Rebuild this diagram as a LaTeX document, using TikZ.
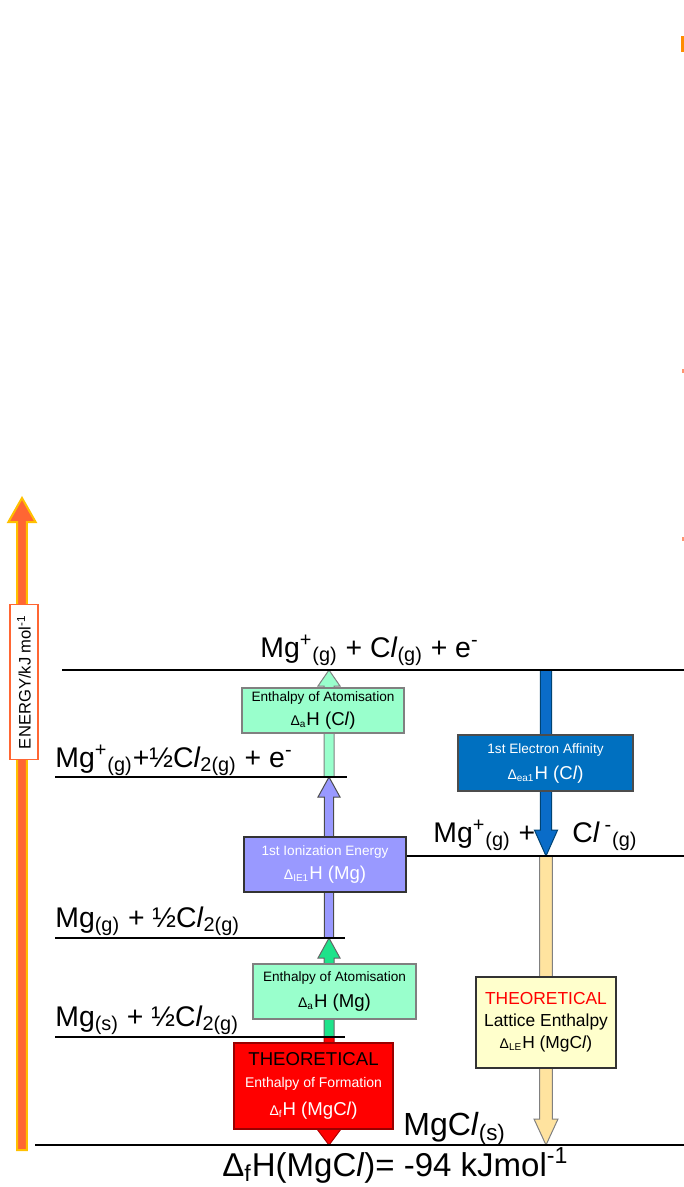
\documentclass[tikz,border=0pt]{standalone}
\usepackage{fontspec}
\setmainfont{Liberation Sans}
\usetikzlibrary{calc}
\definecolor{mint}{HTML}{99FFCC}
\definecolor{mgatom}{HTML}{1EE38A}
\definecolor{ionis}{HTML}{9999FF}
\definecolor{affin}{HTML}{0070C0}
\definecolor{affinarrow}{HTML}{0A6CC8}
\definecolor{form}{HTML}{FF0000}
\definecolor{latt}{HTML}{FFE39F}
\definecolor{lattbox}{HTML}{FFFFCC}
\definecolor{axisfill}{HTML}{FF6633}
\definecolor{axisedge}{HTML}{FFC000}

% [style]{from}{to}{half shaft}{half head}{head length}
\newcommand\blockarrow[6][]{%
  \draw[#1] let \p1=(#2), \p2=(#3), \n1={sign(\y2-\y1)} in
    (\x1-#4,\y1) -- (\x1-#4,\y2-\n1*#6) -- (\x1-#5,\y2-\n1*#6) -- (\x2,\y2)
    -- (\x1+#5,\y2-\n1*#6) -- (\x1+#4,\y2-\n1*#6) -- (\x1+#4,\y1) -- cycle;}
\newcommand\cl{C\textit{l}}
\newcommand\sbs[1]{\textsubscript{#1}}
\newcommand\sps[1]{\textsuperscript{#1}}
\newcommand\smalld[1]{{\fontsize{7}{8}\selectfont Δ\sbs{#1}}}

\begin{document}
\begin{tikzpicture}[x=0.5pt,y=-0.5pt,
  level/.style={line width=1pt},
  lbl/.style={anchor=base west,inner sep=0pt,font=\fontsize{14.2}{17}\selectfont},
  box/.style={draw,align=center,inner sep=0pt,line width=0.6pt,font=\fontsize{9.3}{11}\selectfont},
  blk/.style={line width=0.5pt,line join=miter},
]
  \path[use as bounding box] (0,0) rectangle (684,1187);

  % level points
  \coordinate (atm) at (329,670);
  \coordinate (ion) at (329,777);
  \coordinate (gas) at (329,938);
  \coordinate (sol) at (329,1037);
  \coordinate (base) at (329,1145);
  \coordinate (atmR) at (546,670);
  \coordinate (ionR) at (546,856);
  \coordinate (baseR) at (546,1145);
  \coordinate (axlo) at (22,1150);
  \coordinate (axhi) at (22,498);

  % energy axis
  \blockarrow[fill=axisfill,draw=axisedge,line width=1pt]{axlo}{axhi}{2.4pt}{6.8pt}{12pt}
  \node[draw=axisfill,fill=white,line width=0.8pt,rotate=90,minimum width=77.5pt,minimum height=14pt,inner sep=0pt,
    font=\fontsize{8.3}{9}\selectfont] (axlbl) at (24,682) {ENERGY/kJ mol\sps{-1}};

  % cycle arrows
  \blockarrow[blk,fill=form,draw=form!70!black]{sol}{base}{2.5pt}{6pt}{8pt}
  \blockarrow[blk,fill=mgatom,draw=black!60]{sol}{gas}{2.5pt}{5.5pt}{10pt}
  \blockarrow[blk,fill=ionis,draw=black!70]{gas}{ion}{2.3pt}{5.5pt}{10pt}
  \blockarrow[blk,fill=mint,draw=black!50]{ion}{atm}{2.5pt}{5.5pt}{8pt}
  \blockarrow[blk,fill=affinarrow,draw=affin!60!black]{atmR}{ionR}{2.8pt}{5.8pt}{13pt}
  \blockarrow[blk,fill=latt,draw=black!50]{ionR}{baseR}{3.2pt}{6pt}{13pt}

  % levels
  \draw[level] (62,670) -- (684,670);
  \draw[level] (55,777) -- (347,777);
  \draw[level] (402,856) -- (684,856);
  \draw[level] (55,938) -- (345,938);
  \draw[level] (55,1037) -- (345,1037);
  \draw[level] (35,1145) -- (684,1145);

  \node[lbl] (l1) at (260,657) {Mg\sps{+}\sbs{(g)} + \cl\sbs{(g)} + e\sps{-}};
  \node[lbl] (l2) at (55,767) {Mg\sps{+}\sbs{(g)}+½\cl\sbs{2(g)} + e\sps{-}};
  \node[lbl] (l3a) at (433,842) {Mg\sps{+}\sbs{(g)} +};
  \node[lbl] (l3b) at (572,842) {\cl\,\sps{-}\sbs{(g)}};
  \node[lbl] (l4) at (55,927) {Mg\sbs{(g)} + ½\cl\sbs{2(g)}};
  \node[lbl] (l5) at (55,1026) {Mg\sbs{(s)} + ½\cl\sbs{2(g)}};
  \node[lbl,font=\fontsize{16}{18}\selectfont] (l6) at (403,1135) {MgC\textit{l}\sbs{(s)}};
  \node[lbl,font=\fontsize{16.5}{18}\selectfont] (res) at (222,1176)
    {Δ\sbs{f}H(MgC\textit{l})= -94 kJmol\sps{-1}};

  % boxes
  \node[box,fill=mint,draw=black!50,minimum width=81pt,minimum height=22.5pt] (bcl) at (323,710.5)
    {{\fontsize{6.8}{8}\selectfont Enthalpy of Atomisation}\\[1pt]\smalld{a}H (\cl)};
  \node[box,fill=affin,draw=black!70,text=white,minimum width=87.5pt,minimum height=28pt] (bea) at (545.5,763)
    {{\fontsize{6.8}{8}\selectfont 1st Electron Affinity}\\[2pt]\smalld{ea1}H (\cl)};
  \node[box,fill=ionis,draw=black!80,text=white,minimum width=81pt,minimum height=27.5pt] (bie) at (325,864.5)
    {{\fontsize{6.8}{8}\selectfont 1st Ionization Energy}\\[1pt]\smalld{IE1}H (Mg)};
  \node[box,fill=mint,draw=black!50,minimum width=81.5pt,minimum height=27.5pt] (bmg) at (334.5,991.5)
    {{\fontsize{6.8}{8}\selectfont Enthalpy of Atomisation}\\[2pt]\smalld{a}H (Mg)};
  \node[box,fill=form,draw=form!60!black,text=white,minimum width=79.5pt,minimum height=43pt] (bfo) at (313.5,1086)
    {\textcolor{black}{THEORETICAL}\\{\fontsize{7}{8}\selectfont Enthalpy of Formation}\\[3pt]\smalld{f}H (MgC\textit{l})};
  \node[box,fill=lattbox,draw=black!80,minimum width=70pt,minimum height=45.5pt,font=\fontsize{8.7}{11}\selectfont] (blt) at (546,1022.5)
    {\textcolor{form}{THEORETICAL}\\Lattice Enthalpy\\\smalld{LE}H (MgC\textit{l})};

  % cut-off marks at the right edge
  \fill[orange!90!yellow] (681,36) rectangle (684,52);
  \fill[axisfill!70] (682,369) rectangle (684,373);
  \fill[axisfill!70] (682,537) rectangle (684,541);
\end{tikzpicture}
\end{document}
